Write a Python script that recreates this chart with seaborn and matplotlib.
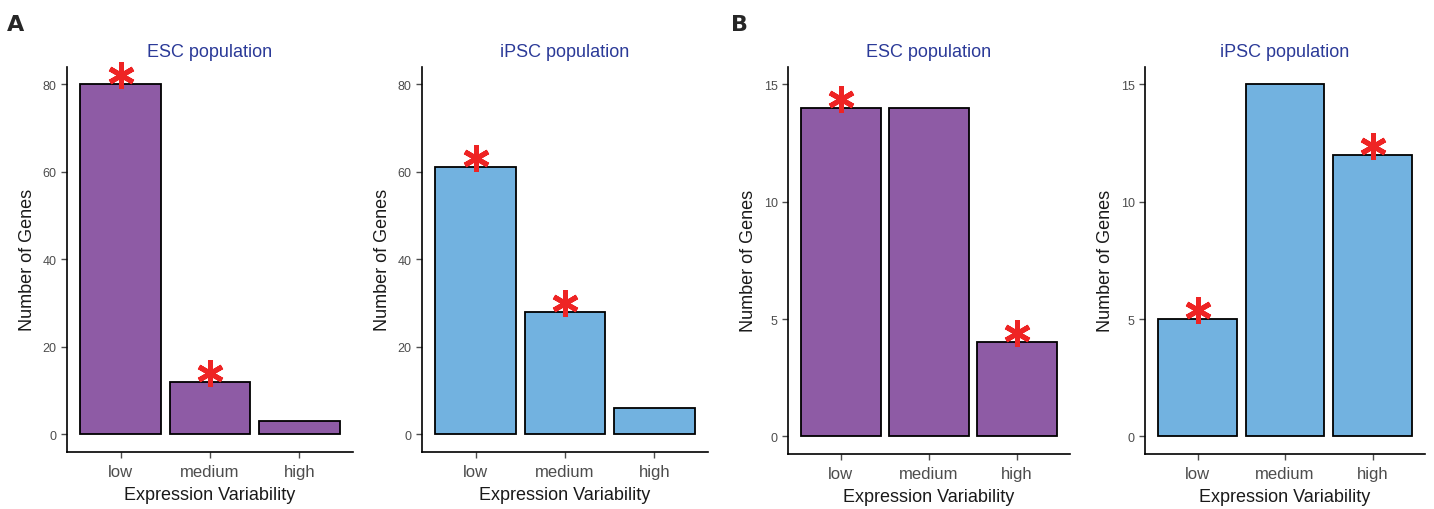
import numpy as np
import pandas as pd
import matplotlib
matplotlib.use('Agg')
import matplotlib.pyplot as plt
import matplotlib.transforms as mtransforms
import seaborn as sns

sns.set_style('white')
plt.rcParams['font.family'] = ['Liberation Sans', 'DejaVu Sans']

# data
categories = ['low', 'medium', 'high']
a_esc = [80, 12, 3]
a_ipsc = [61, 28, 6]
b_esc = [14, 14, 4]
b_ipsc = [5, 15, 12]
a_esc_star = [True, True, False]
a_ipsc_star = [True, True, False]
b_esc_star = [True, False, True]
b_ipsc_star = [True, False, True]

purple = '#8E5BA5'
blue = '#72B2E0'
title_col = '#2B3A98'
grey = '#4D4D4D'

panels = [
    ('ESC population', a_esc, a_esc_star, purple, [0, 20, 40, 60, 80], (-4, 84)),
    ('iPSC population', a_ipsc, a_ipsc_star, blue, [0, 20, 40, 60, 80], (-4, 84)),
    ('ESC population', b_esc, b_esc_star, purple, [0, 5, 10, 15], (-0.75, 15.75)),
    ('iPSC population', b_ipsc, b_ipsc_star, blue, [0, 5, 10, 15], (-0.75, 15.75)),
]
positions = [
    [0.0467, 0.112, 0.1994, 0.755],
    [0.2943, 0.112, 0.1994, 0.755],
    [0.5495, 0.108, 0.1967, 0.759],
    [0.7985, 0.108, 0.1953, 0.759],
]

fig = plt.figure(figsize=(14.34, 5.10), dpi=100)

for (title, vals, stars, col, yticks, ylim), pos in zip(panels, positions):
    ax = fig.add_axes(pos)
    df = pd.DataFrame({'var': categories, 'n': vals})
    sns.barplot(data=df, x='var', y='n', order=categories, color=col,
                saturation=1, edgecolor='black', linewidth=1.3, width=0.9, ax=ax)
    # significance asterisks
    off = mtransforms.offset_copy(ax.transData, fig=fig, x=0, y=6.5, units='points')
    for i, (v, s) in enumerate(zip(vals, stars)):
        if s:
            ax.plot(i, v, marker=(6, 2, 0), markersize=19, mew=3.6,
                    color='#EE2424', transform=off, clip_on=False)
    ax.set_xlim(-0.6, 2.6)
    ax.set_ylim(*ylim)
    ax.set_yticks(yticks)
    ax.set_title(title, color=title_col, fontsize=13, pad=8)
    ax.set_xlabel('Expression Variability', fontsize=13, color='#1a1a1a', labelpad=5)
    ax.set_ylabel('Number of Genes', fontsize=13, color='#1a1a1a', labelpad=5)
    ax.tick_params(axis='x', labelsize=12, labelcolor=grey, length=4, width=1, color=grey,
                   bottom=True, pad=5)
    ax.tick_params(axis='y', labelsize=9, labelcolor=grey, length=4, width=1, color=grey, left=True)
    sns.despine(ax=ax)
    for sp in ['left', 'bottom']:
        ax.spines[sp].set_color('black')
        ax.spines[sp].set_linewidth(1.2)

fig.text(0.005, 0.94, 'A', fontsize=16, fontweight='heavy', family='DejaVu Sans')
fig.text(0.510, 0.94, 'B', fontsize=16, fontweight='heavy', family='DejaVu Sans')

plt.savefig('out.png', dpi=100)
